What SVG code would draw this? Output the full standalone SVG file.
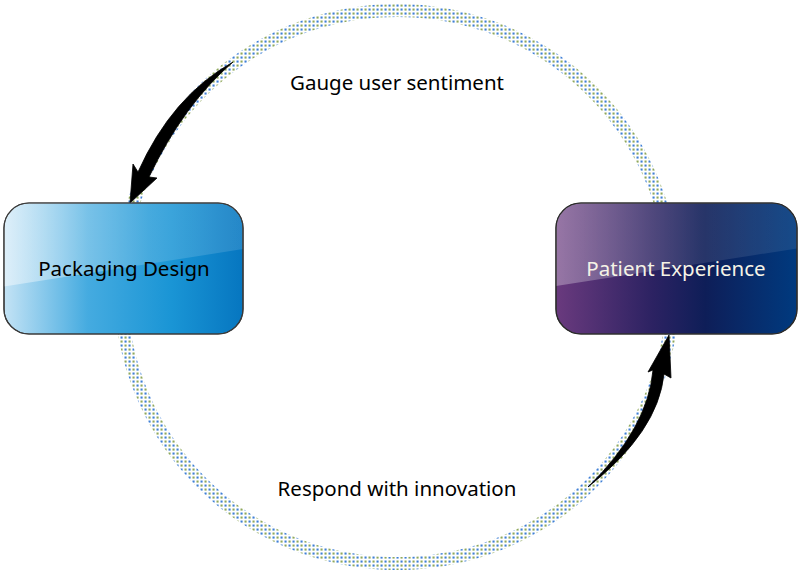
<svg xmlns="http://www.w3.org/2000/svg" width="800" height="573" viewBox="0 0 800 573">
<defs>
<pattern id="dots" patternUnits="userSpaceOnUse" width="8" height="8">
<rect x="0.5" y="0.5" width="2.1" height="2.1" fill="#3f7fd6"/>
<rect x="4.5" y="4.5" width="2.1" height="2.1" fill="#3f7fd6"/>
<rect x="4.5" y="0.5" width="2.1" height="2.1" fill="#8fa85c"/>
<rect x="0.5" y="4.5" width="2.1" height="2.1" fill="#8fa85c"/>
</pattern>
<linearGradient id="gBlue" x1="0" y1="0" x2="1" y2="0">
<stop offset="0" stop-color="#c4e3f5"/>
<stop offset="0.35" stop-color="#45abe0"/>
<stop offset="0.7" stop-color="#1a95d5"/>
<stop offset="1" stop-color="#0676c0"/>
</linearGradient>
<linearGradient id="gPurple" x1="0" y1="0" x2="1" y2="0">
<stop offset="0" stop-color="#6a3a7e"/>
<stop offset="0.4" stop-color="#2c2262"/>
<stop offset="0.62" stop-color="#0e1e58"/>
<stop offset="1" stop-color="#003a7f"/>
</linearGradient>
<linearGradient id="gloss" x1="0" y1="0" x2="1" y2="0">
<stop offset="0" stop-color="#ffffff" stop-opacity="0.45"/>
<stop offset="0.6" stop-color="#ffffff" stop-opacity="0.15"/>
<stop offset="1" stop-color="#ffffff" stop-opacity="0.12"/>
</linearGradient>
<clipPath id="clipL"><rect x="4" y="203" width="239" height="131" rx="25"/></clipPath>
<clipPath id="clipR"><rect x="556" y="203" width="241" height="131" rx="25"/></clipPath>
<style>
.box{stroke:#3a3a3a;stroke-width:1.2}
.lbl{font-family:"Noto Sans","Open Sans",sans-serif;font-size:20.5px;text-anchor:middle}
.arrow{fill:#000;stroke:#000;stroke-width:0.8;stroke-linejoin:miter}
</style>
</defs>

<g id="ring">
<path d="M397,4 a283,283 0 1,0 0.01,0 Z M397,17 a270,270 0 1,0 0.01,0 Z" fill="url(#dots)" fill-rule="evenodd"/>
</g>

<g id="connectors">
<path class="arrow" d="M233,62 Q172,96 138,172 L133,164 L130,203 L157,178 L149,177 Q184,104 233,62 Z"/>
<path class="arrow" d="M588,487 Q648,428 653,370 L648,372 L669,335 L671,378 L664,374 Q658,432 588,487 Z"/>
<text class="lbl" x="397" y="90" fill="#000">Gauge user sentiment</text>
<text class="lbl" x="397" y="496" fill="#000">Respond with innovation</text>
</g>

<g id="packaging-design">
<rect class="box" x="4" y="203" width="239" height="131" rx="25" fill="url(#gBlue)"/>
<path clip-path="url(#clipL)" d="M0,200 L250,200 L250,248 L0,287 Z" fill="url(#gloss)"/>
<rect x="4" y="203" width="239" height="131" rx="25" fill="none" stroke="#3a3a3a" stroke-width="1.2"/>
<text class="lbl" x="124" y="276" fill="#000">Packaging Design</text>
</g>

<g id="patient-experience">
<rect class="box" x="556" y="203" width="241" height="131" rx="25" fill="url(#gPurple)"/>
<path clip-path="url(#clipR)" d="M550,200 L800,200 L800,248 L550,287 Z" fill="url(#gloss)" opacity="0.7"/>
<rect x="556" y="203" width="241" height="131" rx="25" fill="none" stroke="#2a2a2a" stroke-width="1.2"/>
<text class="lbl" x="676" y="276" fill="#f5f3e6">Patient Experience</text>
</g>
</svg>
